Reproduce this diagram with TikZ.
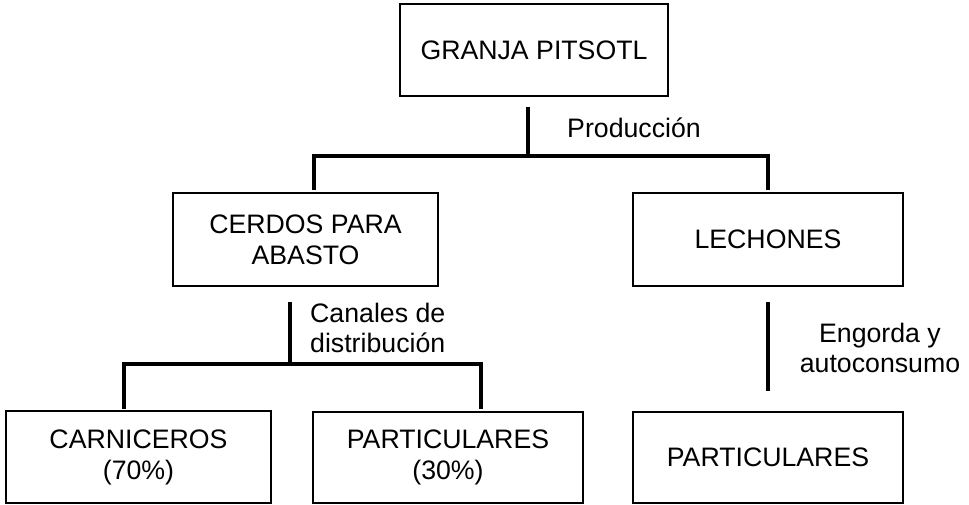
\documentclass[tikz,border=0pt]{standalone}
\usepackage{fontspec}
\setmainfont{Liberation Sans}
\begin{document}
\begin{tikzpicture}[x=1pt,y=-1pt,
  box/.style={draw=black,line width=1.5pt,rectangle,inner sep=0pt,align=center,
    font=\fontsize{26.7}{31}\selectfont},
  lbl/.style={inner sep=0pt,font=\fontsize{26.7}{30.5}\selectfont},
  conn/.style={draw=black,line width=3.2pt}]
\useasboundingbox (0,0) rectangle (969,504);
% boxes
\node[box,minimum width=268pt,minimum height=92pt] (granja) at (534,50) {GRANJA PITSOTL};
\node[box,minimum width=265pt,minimum height=93pt] (cerdos) at (305.5,239.5) {CERDOS PARA\\ABASTO};
\node[box,minimum width=270pt,minimum height=93pt] (lechones) at (768,239.5) {LECHONES};
\node[box,minimum width=265pt,minimum height=92pt] (carn) at (138.5,457) {CARNICEROS\\(70\%)};
\node[box,minimum width=270pt,minimum height=91pt] (part30) at (448,457.5) {PARTICULARES\\(30\%)};
\node[box,minimum width=270pt,minimum height=91pt] (part) at (768,457.5) {PARTICULARES};
% connector points
\coordinate (p1) at (528,107);
\coordinate (p2) at (528,156);
\coordinate (pl) at (314,156);
\coordinate (pr) at (768,156);
\coordinate (plb) at (314,188);
\coordinate (prb) at (768,188);
\coordinate (c1) at (290,302);
\coordinate (c2) at (290,364);
\coordinate (cl) at (124,364);
\coordinate (cr) at (481,364);
\coordinate (clb) at (124,407);
\coordinate (crb) at (481,407);
\coordinate (l1) at (768,302);
\coordinate (l2) at (768,391);
% connectors
\draw[conn] (p1) -- (p2);
\draw[conn,line cap=rect] (plb) -- (pl) -- (pr) -- (prb);
\draw[conn] (c1) -- (c2);
\draw[conn,line cap=rect] (clb) -- (cl) -- (cr) -- (crb);
\draw[conn] (l1) -- (l2);
% labels
\node[lbl] (prod) at (634,128) {Producción};
\node[lbl,align=left,anchor=west] (canales) at (310,328) {Canales de\\distribución};
\node[lbl,align=center] (engorda) at (880,348) {Engorda y\\autoconsumo};
\end{tikzpicture}
\end{document}
